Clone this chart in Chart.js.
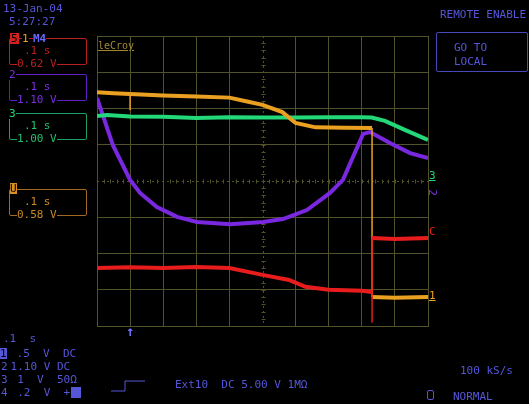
<!DOCTYPE html>
<html>
<head>
<meta charset="utf-8">
<script src="https://cdn.jsdelivr.net/npm/chart.js@4/dist/chart.umd.min.js"></script>
<style>
  html, body { margin: 0; padding: 0; background: #000; }
  #wrap { position: relative; width: 529px; height: 404px; overflow: hidden; background: #000; }
  #scope { position: absolute; left: 0; top: 0; }
  .t { position: absolute; font: 11px "DejaVu Sans Mono", monospace; line-height: 11px; white-space: pre; color: #5656d8; }
  .box { position: absolute; border: 1px solid; border-radius: 2px; }
</style>
</head>
<body>
<div id="wrap">
  <canvas id="scope" width="529" height="404"></canvas>
</div>
<script>
// traces, x in divisions (0..10), y in divisions (-4..4)
const orangeX = [0, 0.5, 1, 1, 1, 2, 3, 4, 4.5, 5, 5.6, 6, 6.6, 7.5, 8.31, 8.31, 9, 10]
const orangeY = [2.45, 2.42, 2.4, 1.95, 2.4, 2.36, 2.33, 2.3, 2.2, 2.1, 1.9, 1.6, 1.48, 1.47, 1.46, -3.2, -3.22, -3.2]

const greenX = [0, 0.3, 1, 2, 3, 4, 5, 6, 7, 8, 8.3, 8.7, 9.3, 10]
const greenY = [1.79, 1.82, 1.78, 1.77, 1.74, 1.76, 1.75, 1.75, 1.76, 1.76, 1.75, 1.66, 1.41, 1.13]

const purpleX = [0, 0.48, 1.0, 1.3, 1.81, 2.42, 3.02, 4.02, 5.02, 5.62, 6.34, 7.04, 7.43, 8.04, 8.25, 8.85, 9.46, 10]
const purpleY = [2.29, 0.99, 0.03, -0.33, -0.72, -0.99, -1.13, -1.19, -1.13, -1.05, -0.8, -0.33, 0.03, 1.3, 1.35, 1.05, 0.77, 0.63]

const redX = [0, 1, 2, 3, 4, 5, 5.8, 6.3, 7, 8, 8.31, 8.31, 8.31, 9, 10]
const redY = [-2.4, -2.38, -2.4, -2.37, -2.4, -2.59, -2.73, -2.92, -3.0, -3.03, -3.06, -3.9, -1.57, -1.6, -1.57]

const xTicks = [0, 1, 2, 3, 4, 5, 6, 7, 8, 9, 10]
const yTicks = [-4, -3, -2, -1, 0, 1, 2, 3, 4]

const gridColor = "#51512a"
const pts = (xs, ys) => xs.map((x, i) => ({ x: x, y: ys[i] }))

// vertical jumps are drawn thin, the rest thick like a noisy trace
const trace = (data, color) => ({
  data: data,
  borderColor: color,
  borderWidth: 4,
  pointRadius: 0,
  showLine: true,
  tension: 0,
  segment: {
    borderWidth: (c) => (c.p0.parsed.x === c.p1.parsed.x ? 1.5 : 4),
  },
})

// dotted center cross with fine ticks
const centerCross = {
  id: "centerCross",
  beforeDatasetsDraw(chart) {
    const { ctx, scales } = chart
    const x = scales.x, y = scales.y
    const cx = Math.round(x.getPixelForValue(5)) + 0.5
    const cy = Math.round(y.getPixelForValue(0)) + 0.5
    ctx.save()
    ctx.strokeStyle = gridColor
    ctx.lineWidth = 1
    ctx.setLineDash([2, 3])
    ctx.beginPath()
    ctx.moveTo(x.left, cy); ctx.lineTo(x.right, cy)
    ctx.moveTo(cx, y.top); ctx.lineTo(cx, y.bottom)
    ctx.stroke()
    ctx.setLineDash([])
    ctx.beginPath()
    for (let v = 0.2; v < 10; v += 0.2) {
      const px = Math.round(x.getPixelForValue(v)) + 0.5
      ctx.moveTo(px, cy - 2); ctx.lineTo(px, cy + 2)
    }
    for (let v = -3.8; v < 4; v += 0.2) {
      const py = Math.round(y.getPixelForValue(v)) + 0.5
      ctx.moveTo(cx - 2, py); ctx.lineTo(cx + 2, py)
    }
    ctx.stroke()
    ctx.restore()
  },
}

new Chart(document.getElementById("scope"), {
  type: "scatter",
  data: {
    datasets: [
      trace(pts(redX, redY), "#e81c1c"),
      trace(pts(orangeX, orangeY), "#eaa020"),
      trace(pts(greenX, greenY), "#22d878"),
      trace(pts(purpleX, purpleY), "#7a28e0"),
    ],
  },
  plugins: [centerCross],
  options: {
    responsive: false,
    animation: false,
    devicePixelRatio: 1,
    layout: { padding: { left: 97, top: 36, right: 101, bottom: 78 } },
    plugins: { legend: { display: false }, tooltip: { enabled: false } },
    scales: {
      x: {
        type: "linear",
        min: 0,
        max: 10,
        afterBuildTicks: (s) => { s.ticks = xTicks.map((v) => ({ value: v })) },
        ticks: { display: false },
        grid: {
          drawTicks: false,
          color: (c) => (c.tick && c.tick.value === 5 ? "rgba(0,0,0,0)" : gridColor),
        },
        border: { color: gridColor },
      },
      y: {
        min: -4,
        max: 4,
        afterBuildTicks: (s) => { s.ticks = yTicks.map((v) => ({ value: v })) },
        ticks: { display: false },
        grid: {
          drawTicks: false,
          color: (c) => (c.tick && c.tick.value === 0 ? "rgba(0,0,0,0)" : gridColor),
        },
        border: { color: gridColor },
      },
    },
  },
})

// scope screen text
const wrap = document.getElementById("wrap")
function txt(s, x, y, color, extra) {
  const d = document.createElement("div")
  d.className = "t"
  d.textContent = s
  d.style.left = x + "px"
  d.style.top = y + "px"
  if (color) d.style.color = color
  if (extra) Object.assign(d.style, extra)
  wrap.appendChild(d)
  return d
}
function box(x, y, w, h, color) {
  const d = document.createElement("div")
  d.className = "box"
  Object.assign(d.style, { left: x + "px", top: y + "px", width: w + "px", height: h + "px", borderColor: color })
  wrap.appendChild(d)
}

txt("13-Jan-04", 3, 3)
txt("5:27:27", 9, 16)

// channel boxes
box(9, 38, 76, 25, "#b82020")
txt("5", 10, 33, "#000", { background: "#d02020", padding: "0 1px" })
txt("1", 22, 33, "#eaa020", { background: "#000" })
txt("M4", 33, 33, "#6a6aff", { background: "#000", fontWeight: "bold" })
txt(".1 s", 24, 45, "#b82020")
txt("0.62 V", 17, 58, "#b82020", { background: "#000" })

box(9, 74, 76, 25, "#6020c0")
txt("2", 9, 69, "#7a30e0", { background: "#000" })
txt(".1 s", 24, 81, "#7a30e0")
txt("1.10 V", 17, 94, "#7a30e0", { background: "#000" })

box(9, 113, 76, 25, "#20a060")
txt("3", 9, 108, "#22d878", { background: "#000" })
txt(".1 s", 24, 120, "#22c070")
txt("1.00 V", 17, 133, "#22c070", { background: "#000" })

box(9, 189, 76, 25, "#a06a20")
txt("U", 10, 183, "#000", { background: "#d89020" })
txt(".1 s", 24, 196, "#c88a28")
txt("0.58 V", 17, 209, "#c88a28", { background: "#000" })

// grid labels
txt("leCroy", 98, 40, "#a08a30", { textDecoration: "underline", fontSize: "10px" })
txt("3", 429, 170, "#22d878", { textDecoration: "underline" })
txt("2", 429, 187, "#7a30e0", { transform: "rotate(90deg)" })
txt("C", 429, 226, "#e81c1c")
txt("1", 429, 290, "#eaa020", { textDecoration: "underline" })
txt("\u2191", 126, 326, "#7070ff", { fontSize: "14px", fontWeight: "bold" })

// bottom-left settings
txt(".1  s", 3, 333)
txt("1", 0, 348, "#000", { background: "#5656d8" })
txt(" .5  V  DC", 10, 348)
txt("2", 1, 361)
txt(" 1.10 V DC", 4, 361)
txt("3", 1, 374)
txt("  1  V  50\u03a9", 4, 374)
txt("4", 1, 387)
txt("  .2  V  +", 4, 387)
txt(" ", 71, 387, "#000", { background: "#5656d8", width: "10px" })

// trigger symbol
const trig = document.createElement("div")
trig.innerHTML = '<svg width="40" height="16"><polyline points="2,13 16,13 16,3 36,3" fill="none" stroke="#5656d8" stroke-width="1"/></svg>'
Object.assign(trig.style, { position: "absolute", left: "109px", top: "378px" })
wrap.appendChild(trig)
txt("Ext10  DC 5.00 V 1M\u03a9", 175, 379)

// right side
txt("REMOTE ENABLE", 440, 9)
box(436, 32, 90, 38, "#4848b8")
txt("GO TO", 454, 42)
txt("LOCAL", 454, 56)
txt("100 kS/s", 460, 365)
box(427, 390, 5, 8, "#5656d8")
txt("NORMAL", 453, 391)
</script>
</body>
</html>
